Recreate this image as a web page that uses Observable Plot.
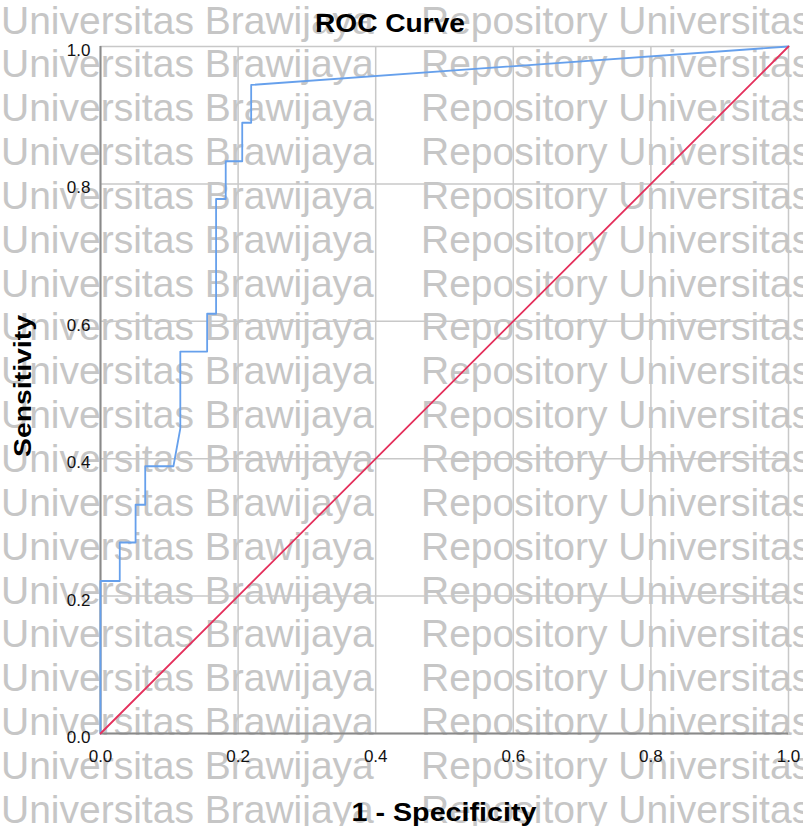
<!DOCTYPE html>
<html>
<head>
<meta charset="utf-8">
<script src="https://cdn.jsdelivr.net/npm/d3@7"></script>
<script src="https://cdn.jsdelivr.net/npm/@observablehq/plot@0.6"></script>
<style>
  html, body { margin: 0; padding: 0; background: #fff; }
  #chart { width: 803px; height: 826px; overflow: hidden; }
</style>
</head>
<body>
<div id="chart"></div>
<script>
// ROC curve points (1 - Specificity, Sensitivity)
const fpr = [0, 0, 0.028, 0.028, 0.051, 0.051, 0.065, 0.065, 0.106, 0.116, 0.116, 0.155, 0.155, 0.168, 0.168, 0.182, 0.182, 0.206, 0.206, 0.219, 0.219, 1];
const tpr = [0, 0.222, 0.222, 0.278, 0.278, 0.333, 0.333, 0.389, 0.389, 0.444, 0.556, 0.556, 0.611, 0.611, 0.778, 0.778, 0.833, 0.833, 0.889, 0.889, 0.944, 1];
// Reference (diagonal) line
const refX = [0, 1];
const refY = [0, 1];
// Tick values
const tickValues = [0, 0.2, 0.4, 0.6, 0.8, 1.0];
// Text
const titleText = "ROC Curve";
const xLabel = "1 - Specificity";
const yLabel = "Sensitivity";
const watermarkLeft = "Universitas Brawijaya";
const watermarkRight = "Repository Universitas";
const watermarkRows = d3.range(19);

const roc = fpr.map((x, i) => ({x, y: tpr[i]}));
const diag = refX.map((x, i) => ({x, y: refY[i]}));

const W = 803, H = 826;
const mL = 100, mR = 15, mT = 46, mB = 93;

const plot = Plot.plot({
  width: W,
  height: H,
  marginLeft: mL,
  marginRight: mR,
  marginTop: mT,
  marginBottom: mB,
  style: {background: "transparent", fontFamily: "'Liberation Sans', Arial, sans-serif", fontSize: "17px", color: "#111"},
  x: {domain: [0, 1]},
  y: {domain: [0, 1]},
  marks: [
    Plot.gridX(tickValues, {stroke: "#c8c8c8", strokeOpacity: 1, strokeWidth: 1.5}),
    Plot.gridY(tickValues, {stroke: "#c8c8c8", strokeOpacity: 1, strokeWidth: 1.5}),
    Plot.ruleX([0], {stroke: "#8a8a8a", strokeWidth: 2}),
    Plot.ruleY([0], {stroke: "#8a8a8a", strokeWidth: 2}),
    Plot.axisX(tickValues, {tickSize: 0, tickPadding: 16, tickFormat: d3.format(".1f"), label: null, fill: "#111", fontSize: 17}),
    Plot.axisY(tickValues, {tickSize: 0, tickPadding: 10, tickFormat: d3.format(".1f"), label: null, dy: 4, fill: "#111", fontSize: 17}),
    Plot.line(roc, {x: "x", y: "y", stroke: "#66a0ec", strokeWidth: 1.8}),
    Plot.line(diag, {x: "x", y: "y", stroke: "#e4305c", strokeWidth: 1.8})
  ]
});

const svg = d3.select(plot);
// Watermark behind everything
const wm = svg.insert("g", ":first-child")
  .attr("font-family", "'Liberation Sans', Arial, sans-serif")
  .attr("font-size", 39)
  .attr("text-anchor", "start")
  .attr("fill", "#c6c6c6");
watermarkRows.forEach(i => {
  const yb = 33.5 + i * 43.85;
  wm.append("text").attr("x", 1).attr("y", yb).text(watermarkLeft);
  wm.append("text").attr("x", 421).attr("y", yb).text(watermarkRight);
});

// Titles
const tg = svg.append("g")
  .attr("font-family", "'Liberation Sans', Arial, sans-serif")
  .attr("font-weight", "bold")
  .attr("fill", "#000");
tg.append("text")
  .attr("x", 390).attr("y", 32)
  .attr("text-anchor", "middle")
  .attr("font-size", 25)
  .attr("textLength", 150).attr("lengthAdjust", "spacingAndGlyphs")
  .text(titleText);
tg.append("text")
  .attr("x", 444).attr("y", 821)
  .attr("text-anchor", "middle")
  .attr("font-size", 25)
  .attr("textLength", 185).attr("lengthAdjust", "spacingAndGlyphs")
  .text(xLabel);
tg.append("text")
  .attr("transform", "translate(31,386) rotate(-90)")
  .attr("text-anchor", "middle")
  .attr("font-size", 24)
  .attr("textLength", 142).attr("lengthAdjust", "spacingAndGlyphs")
  .text(yLabel);

document.getElementById("chart").appendChild(plot);
</script>
</body>
</html>
